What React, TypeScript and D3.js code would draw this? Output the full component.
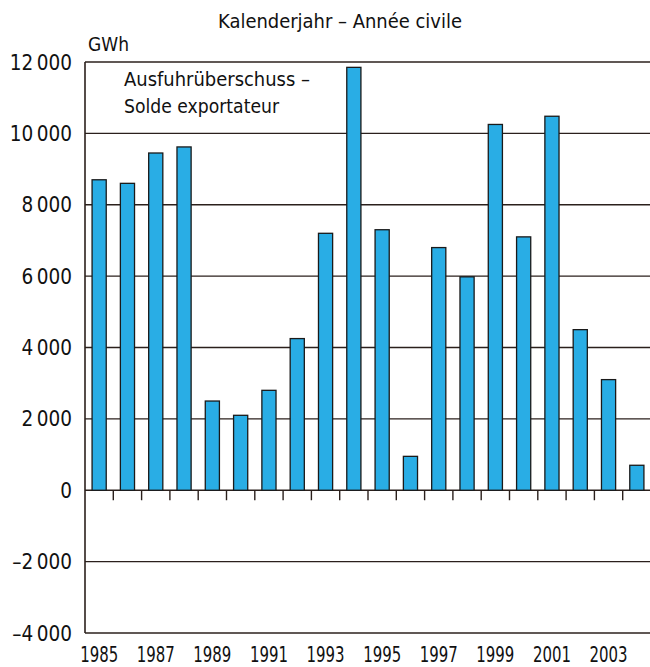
import React from "react";
import * as d3 from "d3";

const years = [1985,1986,1987,1988,1989,1990,1991,1992,1993,1994,1995,1996,1997,1998,1999,2000,2001,2002,2003,2004];
const exportSurplus = [8700,8600,9450,9620,2500,2100,2800,4250,7200,11850,7300,950,6800,5980,10250,7100,10480,4500,3100,700];
const yTicks = [-4000,-2000,0,2000,4000,6000,8000,10000,12000];
const yTickLabels = ["\u20134\u2009000","\u20132\u2009000","0","2\u2009000","4\u2009000","6\u2009000","8\u2009000","10\u2009000","12\u2009000"];
const titleText = "Kalenderjahr \u2013 Ann\u00e9e civile";
const unitText = "GWh";
const legendLines = ["Ausfuhr\u00fcberschuss \u2013", "Solde exportateur"];

const W = 650, H = 667;
const left = 85, right = 651, top = 62, bottom = 633;
const font = "'DejaVu Sans Condensed', 'Liberation Sans Narrow', 'Open Sans', sans-serif";
const ink = "#2b201c";

export default function App() {
  const x = d3.scaleBand<number>().domain(years).range([left, right]).paddingInner(0.5).paddingOuter(0.25);
  const y = d3.scaleLinear().domain([-4000, 12000]).range([bottom, top]);
  const step = x.step();
  const boundaries = years.slice(1).map((yr) => (x(yr) as number) - (step - x.bandwidth()) / 2);
  return (
    <div style={{ position: "absolute", left: 0, top: 0 }}>
      <svg width={W} height={H} style={{ display: "block", background: "#fff" }}>
        <text x={340} y={28} textAnchor="middle" fontFamily={font} fontSize={20} fill="#111" textLength={244} lengthAdjust="spacingAndGlyphs">{titleText}</text>
        <text x={88} y={51} fontFamily={font} fontSize={19} fill="#111">{unitText}</text>
        {yTicks.map((t, i) => (
          <g key={t}>
            <line x1={left} x2={W} y1={y(t)} y2={y(t)} stroke={ink} strokeWidth={1.4} />
            <text x={72} y={y(t) + 7.5} textAnchor="end" fontFamily={font} fontSize={20.5} fill="#111">{yTickLabels[i]}</text>
          </g>
        ))}
        <line x1={left} x2={left} y1={top} y2={bottom} stroke={ink} strokeWidth={1.6} />
        {years.map((yr, i) => {
          const v = exportSurplus[i];
          return (
            <rect key={yr} x={x(yr)} y={y(Math.max(0, v))} width={x.bandwidth()} height={Math.abs(y(v) - y(0))}
              fill="#29ade5" stroke="#1a1a1a" strokeWidth={1.3} />
          );
        })}
        {boundaries.map((bx, i) => (
          <line key={i} x1={bx} x2={bx} y1={y(0)} y2={y(0) + 10} stroke={ink} strokeWidth={1.4} />
        ))}
        {years.filter((yr) => yr % 2 === 1).map((yr) => (
          <text key={yr} x={(x(yr) as number) + x.bandwidth() / 2} y={662} textAnchor="middle" fontFamily={font} fontSize={22} fill="#111" textLength={38} lengthAdjust="spacingAndGlyphs">{yr}</text>
        ))}
        <text x={124} y={86} fontFamily={font} fontSize={19} fill="#111" textLength={186} lengthAdjust="spacingAndGlyphs">{legendLines[0]}</text>
        <text x={124} y={113} fontFamily={font} fontSize={19} fill="#111" textLength={155} lengthAdjust="spacingAndGlyphs">{legendLines[1]}</text>
      </svg>
    </div>
  );
}
